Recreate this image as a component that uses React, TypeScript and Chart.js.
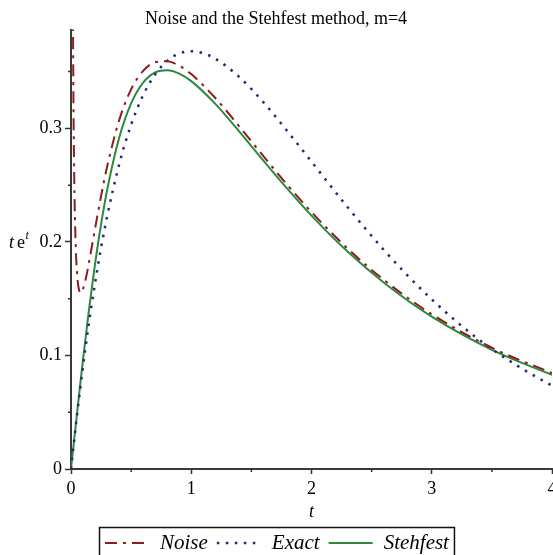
import React, { useEffect, useRef } from "react";
import { Chart, registerables } from "chart.js";

Chart.register(...registerables);

const TITLE = "Noise and the Stehfest method, m=4";
const X_LABEL = "t";
const SERIES_LABELS = ["Noise", "Exact", "Stehfest"];
const X_TICK_LABELS = ["0", "1", "2", "3", "4"];
const Y_TICK_LABELS = ["0", "0.1", "0.2", "0.3"];

const tNoise = [0.015, 0.02, 0.025, 0.03, 0.04, 0.05, 0.06, 0.07, 0.08, 0.1, 0.125, 0.15, 0.2, 0.25, 0.3, 0.4, 0.5, 0.6, 0.7, 0.8, 0.9, 1.0, 1.2, 1.4, 1.6, 1.8, 2.0, 2.3, 2.6, 3.0, 3.5, 4.0];
const noiseValues = [0.428, 0.3295, 0.2724, 0.2359, 0.194, 0.1728, 0.1618, 0.1566, 0.1551, 0.1585, 0.1686, 0.1822, 0.2117, 0.2403, 0.2661, 0.307, 0.3344, 0.3506, 0.3582, 0.3591, 0.3552, 0.3478, 0.3268, 0.3016, 0.2755, 0.2501, 0.2263, 0.1942, 0.1667, 0.1363, 0.1068, 0.0845];

const tExact = [0, 0.05, 0.1, 0.15, 0.2, 0.25, 0.3, 0.4, 0.5, 0.6, 0.7, 0.8, 0.9, 1.0, 1.1, 1.2, 1.4, 1.6, 1.8, 2.0, 2.3, 2.6, 2.8, 3.0, 3.25, 3.5, 3.75, 4.0];
const exactValues = [0, 0.0476, 0.0905, 0.1291, 0.1637, 0.1947, 0.2222, 0.2681, 0.3033, 0.3293, 0.3476, 0.3595, 0.3659, 0.3679, 0.3662, 0.3614, 0.3452, 0.323, 0.2975, 0.2707, 0.2306, 0.1931, 0.1703, 0.1494, 0.1259, 0.1057, 0.0885, 0.0733];

const tStehfest = [0, 0.05, 0.1, 0.15, 0.2, 0.25, 0.3, 0.4, 0.5, 0.6, 0.7, 0.8, 0.9, 1.0, 1.2, 1.4, 1.6, 1.8, 2.0, 2.3, 2.6, 3.0, 3.5, 4.0];
const stehfestValues = [0, 0.0488, 0.0965, 0.1409, 0.1807, 0.2155, 0.2454, 0.2915, 0.322, 0.3403, 0.3493, 0.3513, 0.3483, 0.3416, 0.3216, 0.2972, 0.2716, 0.2467, 0.2232, 0.1915, 0.1643, 0.1342, 0.105, 0.0829];

const SERIF = '"Liberation Serif", "Times New Roman", serif';

const isMajorX = (v: number) => Math.abs(v - Math.round(v)) < 1e-6;
const isMajorY = (v: number) => Math.abs(v * 10 - Math.round(v * 10)) < 1e-6;

const minorTickPlugin = {
  id: "minorTicks",
  afterDraw(chart: any) {
    const ctx = chart.ctx as CanvasRenderingContext2D;
    const { left, bottom } = chart.chartArea;
    const xs = chart.scales.x;
    const ys = chart.scales.y;
    ctx.save();
    ctx.strokeStyle = "#333";
    ctx.lineWidth = 1.5;
    ctx.beginPath();
    xs.ticks.forEach((t: any) => {
      if (isMajorX(t.value)) return;
      const px = xs.getPixelForValue(t.value);
      ctx.moveTo(px, bottom);
      ctx.lineTo(px, bottom + 3);
    });
    ys.ticks.forEach((t: any) => {
      if (isMajorY(t.value)) return;
      const py = ys.getPixelForValue(t.value);
      ctx.moveTo(left, py);
      ctx.lineTo(left - 3, py);
    });
    ctx.stroke();
    ctx.restore();
  },
};

const yLabelPlugin = {
  id: "yLabel",
  afterDraw(chart: any) {
    const ctx = chart.ctx as CanvasRenderingContext2D;
    const yMid = (chart.chartArea.top + chart.chartArea.bottom) / 2 - 6;
    ctx.save();
    ctx.fillStyle = "#000";
    ctx.textBaseline = "middle";
    ctx.textAlign = "left";
    ctx.font = `italic 18px ${SERIF}`;
    ctx.fillText("t", 9, yMid);
    ctx.font = `18px ${SERIF}`;
    ctx.fillText("e", 17, yMid);
    ctx.font = `italic 12px ${SERIF}`;
    ctx.fillText("t", 25.5, yMid - 7);
    ctx.restore();
  },
};

const legendPlugin = {
  id: "boxLegend",
  afterDraw(chart: any) {
    const ctx = chart.ctx as CanvasRenderingContext2D;
    const ds = chart.data.datasets;
    const sample = 44;
    const gap = 11;
    const sep = 9;
    const padL = 6;
    const padR = 5;
    ctx.save();
    ctx.font = `italic 21px ${SERIF}`;
    const widths = ds.map((d: any) => ctx.measureText(d.label).width);
    let total = padL + padR;
    widths.forEach((w: number, i: number) => {
      total += sample + gap + w + (i > 0 ? sep : 0);
    });
    const x0 = Math.round(chart.width / 2 - total / 2);
    const top = 527;
    const yc = 543;
    ctx.strokeStyle = "#111";
    ctx.lineWidth = 1.5;
    ctx.strokeRect(x0 + 0.5, top + 0.5, total, 40);
    let x = x0 + padL;
    ds.forEach((d: any, i: number) => {
      if (i > 0) x += sep;
      ctx.beginPath();
      ctx.strokeStyle = d.borderColor;
      ctx.lineWidth = d.borderWidth;
      ctx.setLineDash(d.borderDash || []);
      ctx.moveTo(x, yc);
      ctx.lineTo(x + sample, yc);
      ctx.stroke();
      ctx.setLineDash([]);
      x += sample + gap;
      ctx.fillStyle = "#000";
      ctx.textBaseline = "middle";
      ctx.textAlign = "left";
      ctx.fillText(d.label, x, yc);
      x += widths[i];
    });
    ctx.restore();
  },
};

export default function App() {
  const ref = useRef<HTMLCanvasElement | null>(null);

  useEffect(() => {
    if (!ref.current) return;
    Chart.defaults.font.family = SERIF;
    const toPts = (xs: number[], ys: number[]) => xs.map((x, i) => ({ x, y: ys[i] }));
    const chart = new Chart(ref.current, {
      type: "line",
      data: {
        datasets: [
          {
            label: SERIES_LABELS[0],
            data: toPts(tNoise, noiseValues),
            borderColor: "#8e1b1f",
            borderWidth: 2,
            borderDash: [12, 6, 3, 6],
            pointRadius: 0,
            cubicInterpolationMode: "monotone",
            fill: false,
          },
          {
            label: SERIES_LABELS[1],
            data: toPts(tExact, exactValues),
            borderColor: "#26267a",
            borderWidth: 2.5,
            borderDash: [2.5, 6.5],
            pointRadius: 0,
            cubicInterpolationMode: "monotone",
            fill: false,
          },
          {
            label: SERIES_LABELS[2],
            data: toPts(tStehfest, stehfestValues),
            borderColor: "#2b8a3e",
            borderWidth: 2,
            pointRadius: 0,
            cubicInterpolationMode: "monotone",
            fill: false,
          },
        ],
      },
      options: {
        responsive: false,
        animation: false,
        layout: { padding: { left: 0, right: 1, top: 0, bottom: 31 } },
        plugins: {
          legend: { display: false },
          tooltip: { enabled: false },
          title: {
            display: true,
            text: TITLE,
            color: "#000",
            font: { size: 18, weight: "normal", family: SERIF },
            padding: { top: 8, bottom: 0 },
          },
        },
        scales: {
          x: {
            type: "linear",
            min: 0,
            max: 4,
            afterFit: (s: any) => {
              s.height = 55;
              s.paddingLeft = 0;
              s.paddingRight = 0;
            },
            ticks: {
              stepSize: 0.5,
              autoSkip: false,
              maxRotation: 0,
              color: "#000",
              padding: 4,
              font: { size: 18, family: SERIF },
              callback: (v: any) => {
                const n = Number(v);
                return isMajorX(n) ? X_TICK_LABELS[Math.round(n)] : "";
              },
            },
            grid: {
              display: true,
              drawOnChartArea: false,
              drawTicks: true,
              tickLength: 5,
              tickColor: (c: any) => (c.tick && isMajorX(c.tick.value) ? "#333" : "rgba(0,0,0,0)"),
              tickWidth: 1.5,
            },
            border: { display: true, color: "#3a3a3a", width: 2 },
            title: {
              display: true,
              text: X_LABEL,
              color: "#000",
              font: { size: 18, style: "italic", family: SERIF },
              padding: { top: 0, bottom: 1 },
            },
          },
          y: {
            type: "linear",
            min: 0,
            max: 0.387,
            afterFit: (s: any) => {
              s.width = 71;
              s.paddingTop = 0;
              s.paddingBottom = 0;
            },
            ticks: {
              stepSize: 0.05,
              autoSkip: false,
              includeBounds: false,
              color: "#000",
              padding: 3,
              font: { size: 18, family: SERIF },
              callback: (v: any) => {
                const n = Number(v);
                return isMajorY(n) ? Y_TICK_LABELS[Math.round(n * 10)] : "";
              },
            },
            grid: {
              display: true,
              drawOnChartArea: false,
              drawTicks: true,
              tickLength: 6,
              tickColor: (c: any) => (c.tick && isMajorY(c.tick.value) ? "#333" : "rgba(0,0,0,0)"),
              tickWidth: 1.5,
            },
            border: { display: true, color: "#3a3a3a", width: 2 },
          },
        },
      } as any,
      plugins: [minorTickPlugin, yLabelPlugin, legendPlugin],
    });
    return () => chart.destroy();
  }, []);

  return (
    <div style={{ position: "fixed", left: 0, top: 0, width: 553, height: 555, overflow: "hidden", background: "#fff" }}>
      <canvas ref={ref} width={553} height={555} style={{ width: 553, height: 555, display: "block" }} />
    </div>
  );
}
